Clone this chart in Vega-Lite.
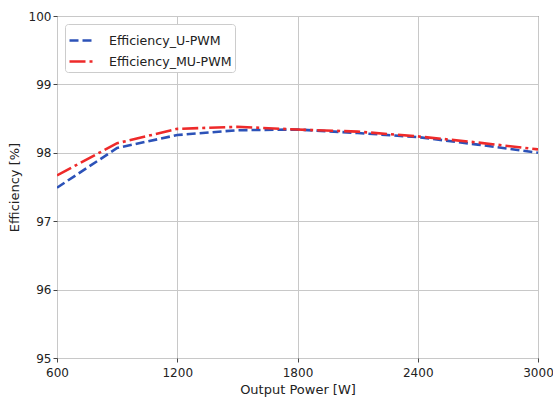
{
  "$schema": "https://vega.github.io/schema/vega-lite/v6.json",
  "autosize": {"type": "none"},
  "width": 481,
  "height": 342,
  "padding": {"left": 57, "top": 16, "right": 15, "bottom": 42},
  "background": "white",
  "config": {
    "font": "DejaVu Sans",
    "view": {"stroke": "#444", "strokeWidth": 1},
    "axis": {
      "labelFont": "DejaVu Sans",
      "titleFont": "DejaVu Sans",
      "labelFontSize": 12,
      "titleFontSize": 13,
      "labelColor": "#222",
      "titleColor": "#222",
      "titleFontWeight": "normal",
      "gridColor": "#c8c8c8",
      "gridWidth": 1,
      "domain": false,
      "tickColor": "#444",
      "tickSize": 4
    }
  },
  "data": {
    "values": [
      {"power": 600, "eff": 97.49, "series": "Efficiency_U-PWM"},
      {"power": 900, "eff": 98.07, "series": "Efficiency_U-PWM"},
      {"power": 1200, "eff": 98.26, "series": "Efficiency_U-PWM"},
      {"power": 1500, "eff": 98.33, "series": "Efficiency_U-PWM"},
      {"power": 1800, "eff": 98.34, "series": "Efficiency_U-PWM"},
      {"power": 2100, "eff": 98.29, "series": "Efficiency_U-PWM"},
      {"power": 2400, "eff": 98.23, "series": "Efficiency_U-PWM"},
      {"power": 2700, "eff": 98.12, "series": "Efficiency_U-PWM"},
      {"power": 3000, "eff": 98.00, "series": "Efficiency_U-PWM"},
      {"power": 600, "eff": 97.67, "series": "Efficiency_MU-PWM"},
      {"power": 900, "eff": 98.14, "series": "Efficiency_MU-PWM"},
      {"power": 1200, "eff": 98.35, "series": "Efficiency_MU-PWM"},
      {"power": 1500, "eff": 98.38, "series": "Efficiency_MU-PWM"},
      {"power": 1800, "eff": 98.34, "series": "Efficiency_MU-PWM"},
      {"power": 2100, "eff": 98.31, "series": "Efficiency_MU-PWM"},
      {"power": 2400, "eff": 98.24, "series": "Efficiency_MU-PWM"},
      {"power": 2700, "eff": 98.15, "series": "Efficiency_MU-PWM"},
      {"power": 3000, "eff": 98.05, "series": "Efficiency_MU-PWM"}
    ]
  },
  "mark": {"type": "line", "strokeWidth": 2.6, "interpolate": "linear", "clip": true},
  "encoding": {
    "x": {
      "field": "power", "type": "quantitative",
      "scale": {"domain": [600, 3000], "nice": false, "zero": false},
      "axis": {"values": [600, 1200, 1800, 2400, 3000], "format": "d", "title": "Output Power [W]", "titlePadding": 5, "labelPadding": 5,
               "labelFlush": false}
    },
    "y": {
      "field": "eff", "type": "quantitative",
      "scale": {"domain": [95, 100], "nice": false, "zero": false},
      "axis": {"values": [95, 96, 97, 98, 99, 100], "format": "d", "title": "Efficiency [%]", "titlePadding": 7, "labelPadding": 2}
    },
    "color": {
      "field": "series", "type": "nominal",
      "scale": {"domain": ["Efficiency_U-PWM", "Efficiency_MU-PWM"], "range": ["#2c52b8", "#ee2a2a"]},
      "legend": {
        "title": null, "orient": "top-left", "offset": 8,
        "symbolType": "stroke", "symbolSize": 576, "symbolStrokeWidth": 2.6,
        "labelFont": "DejaVu Sans", "labelFontSize": 12.6, "labelColor": "#222",
        "strokeColor": "#ccc", "fillColor": "white", "padding": 3, "cornerRadius": 3,
        "rowPadding": 0, "labelOffset": 14
      }
    },
    "strokeDash": {
      "field": "series", "type": "nominal",
      "scale": {"domain": ["Efficiency_U-PWM", "Efficiency_MU-PWM"], "range": [[9, 4], [16, 4, 3, 4]]},
      "legend": {
        "title": null, "orient": "top-left", "offset": 8,
        "symbolType": "stroke", "symbolSize": 576, "symbolStrokeWidth": 2.6,
        "labelFont": "DejaVu Sans", "labelFontSize": 12.6, "labelColor": "#222",
        "strokeColor": "#ccc", "fillColor": "white", "padding": 3, "cornerRadius": 3,
        "rowPadding": 0, "labelOffset": 14
      }
    }
  }
}
